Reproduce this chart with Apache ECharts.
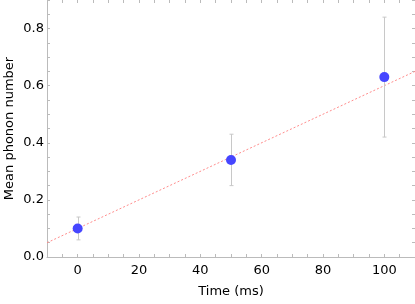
<!DOCTYPE html>
<html><head><meta charset="utf-8">
<script src="https://cdn.jsdelivr.net/npm/echarts@6/dist/echarts.min.js"></script>
<style>html,body{margin:0;padding:0;background:#fff}#c{width:415px;height:304px}</style>
</head><body><div id="c"></div>
<script>
const timeMs = [0, 50, 100];
const meanPhonon = [0.10, 0.34, 0.63];
const errLow = [0.06, 0.25, 0.42];
const errHigh = [0.14, 0.43, 0.84];
const fitX = [-10, 110];
const fitY = [0.05, 0.65];
const xTicks = [0, 20, 40, 60, 80, 100];
const yTicks = [0.0, 0.2, 0.4, 0.6, 0.8];

const font = 'DejaVu Sans';
const axisCol = '#bbbbbb';
const chart = echarts.init(document.getElementById('c'));
const common = {
  axisLine: {show: true, onZero: false, lineStyle: {color: axisCol, width: 1}},
  axisTick: {show: true, inside: true, length: 3, lineStyle: {color: axisCol}},
  splitLine: {show: false}
};
const xFmt = v => { const t = xTicks.find(x => Math.abs(x - v) < 1e-6); return t === undefined ? '' : String(t); };
const yFmt = v => { const t = yTicks.find(y => Math.abs(y - v) < 1e-6); return t === undefined ? '' : t.toFixed(1); };
chart.setOption({
  animation: false,
  grid: {left: 47, right: 0, top: 0, bottom: 47, containLabel: false, outerBoundsMode: 'none'},
  xAxis: [
    Object.assign({type: 'value', min: -10, max: 110, interval: 5, position: 'bottom',
      name: 'Time (ms)', nameLocation: 'middle', nameGap: 28, nameMoveOverlap: false,
      nameTextStyle: {fontFamily: font, fontSize: 13, color: '#000'},
      axisLabel: {fontFamily: font, fontSize: 13, color: '#000', margin: 7, formatter: xFmt, showMinLabel: true, showMaxLabel: true}}, common),
    Object.assign({type: 'value', min: -10, max: 110, interval: 5, position: 'top',
      axisLabel: {show: false}}, common, {axisLine: {show: false, onZero: false}})
  ],
  yAxis: [
    Object.assign({type: 'value', min: 0, max: 0.9, interval: 0.05, position: 'left',
      name: 'Mean phonon number', nameLocation: 'middle', nameGap: 31, nameMoveOverlap: false,
      nameTextStyle: {fontFamily: font, fontSize: 13, color: '#000'},
      axisLabel: {fontFamily: font, fontSize: 13, color: '#000', margin: 3, formatter: yFmt}}, common),
    Object.assign({type: 'value', min: 0, max: 0.9, interval: 0.05, position: 'right',
      axisLabel: {show: false}}, common, {axisLine: {show: false, onZero: false}})
  ],
  series: [
    {type: 'line', data: fitX.map((x, i) => [x, fitY[i]]), symbol: 'none', silent: true,
      lineStyle: {color: '#ff8c8c', width: 1, type: [2, 2]}, z: 2},
    {type: 'custom', z: 3,
      data: timeMs.map((x, i) => [x, errLow[i], errHigh[i]]),
      renderItem: function (params, api) {
        const lo = api.coord([api.value(0), api.value(1)]);
        const hi = api.coord([api.value(0), api.value(2)]);
        const x = Math.round(lo[0]) + 0.5;
        const st = {stroke: '#c8c8c8', lineWidth: 1};
        return {type: 'group', children: [
          {type: 'line', shape: {x1: x, y1: hi[1], x2: x, y2: lo[1]}, style: st},
          {type: 'line', shape: {x1: x - 2, y1: hi[1], x2: x + 2, y2: hi[1]}, style: st},
          {type: 'line', shape: {x1: x - 2, y1: lo[1], x2: x + 2, y2: lo[1]}, style: st}
        ]};
      }},
    {type: 'scatter', z: 4, data: timeMs.map((x, i) => [x, meanPhonon[i]]),
      symbol: 'circle', symbolSize: 10, itemStyle: {color: '#4646ff', opacity: 1}}
  ]
});
</script></body></html>
